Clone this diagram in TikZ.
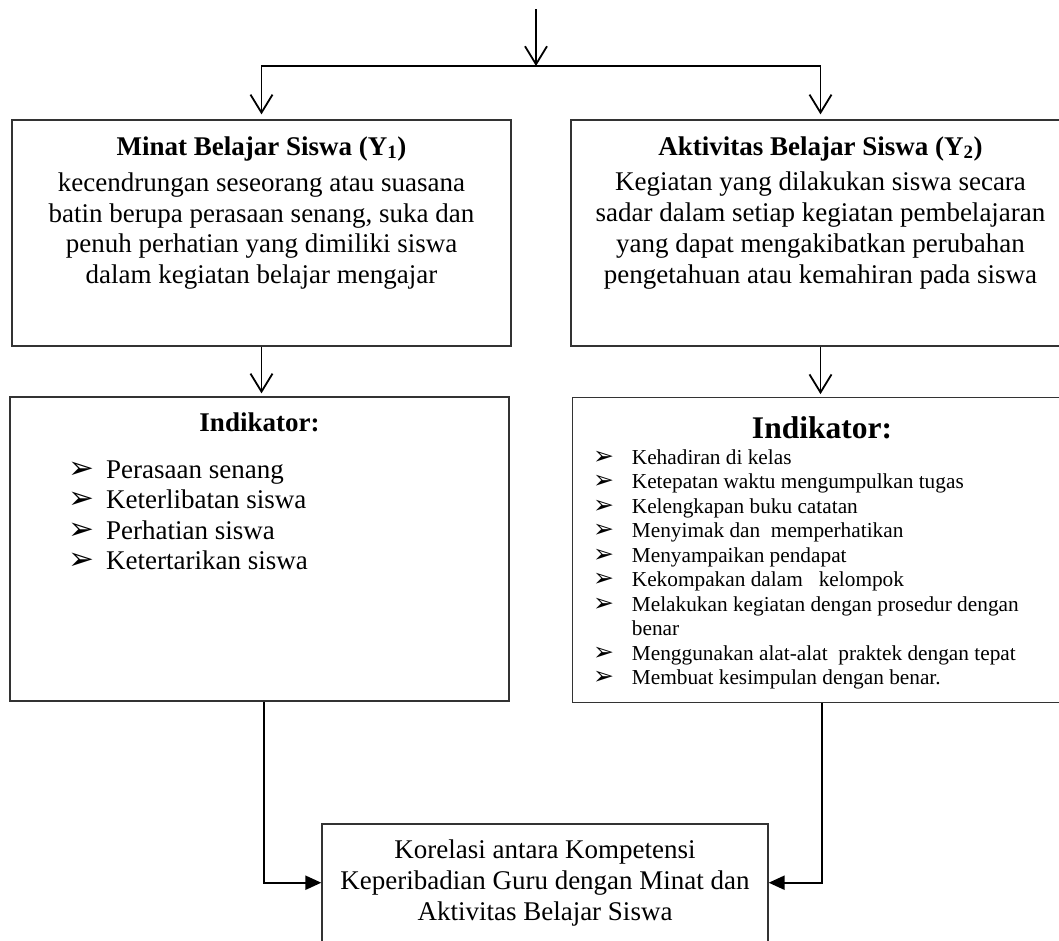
\documentclass[tikz,border=0pt]{standalone}
\usepackage{fontspec}
\setmainfont{Liberation Serif}
\newfontfamily\tandafont{DejaVu Sans}
\usepackage{tikz}
\usetikzlibrary{
    arrows.meta,
    positioning,
    calc
}
\tikzstyle{panah} = [
    -{Straight Barb[length=18pt,width=22pt]},
    line width=1.8pt
]
\tikzstyle{panahisi} = [
    -{Triangle[length=16pt,width=14pt]},
    line width=2.2pt
]
\tikzstyle{kotak} = [
    draw=black!80,
    line width=1.3pt,
    inner sep=0pt,
    minimum width=499pt
]
\tikzstyle{judul} = [
    font=\fontsize{27}{30.7}\selectfont\bfseries,
    anchor=base,
    inner sep=0pt
]
\tikzstyle{isi} = [
    font=\fontsize{27}{30.7}\selectfont,
    align=center,
    inner sep=0pt
]
\tikzstyle{butir} = [
    font=\fontsize{27}{30}\selectfont,
    anchor=base west,
    inner sep=0pt
]
\tikzstyle{butirkecil} = [
    font=\fontsize{21.3}{24}\selectfont,
    anchor=base west,
    inner sep=0pt
]

\begin{document}
\begin{tikzpicture}[x=1pt, y=-1pt]
        \useasboundingbox (0,0) rectangle (1059,940);

        % Kotak variabel
        \node[kotak, minimum height=226pt] (minat) at (261.5,233) {};
        \node[kotak, minimum height=226pt] (aktivitas) at (820.5,233) {};
        \node[kotak, minimum height=304pt] (indminat) at (259.5,549) {};
        \node[kotak, minimum height=305pt] (indaktivitas) at (822,550.3) {};
        \node[kotak, minimum width=446pt, minimum height=117.4pt, font=\fontsize{27}{31}\selectfont, align=center]
            (korelasi) at (545,882.7) {Korelasi antara Kompetensi\\Keperibadian Guru dengan Minat dan\\Aktivitas Belajar Siswa};

        % Isi kotak atas
        \node[judul] (judulminat) at (261.5,155) {Minat Belajar Siswa (Y\textsubscript{1})};
        \node[isi] (isiminat) at (261.5,231) {kecendrungan seseorang atau suasana\\batin berupa perasaan senang, suka dan\\penuh perhatian yang dimiliki siswa\\dalam kegiatan belajar mengajar};
        \node[judul] (judulaktivitas) at (820.5,155) {Aktivitas Belajar Siswa (Y\textsubscript{2})};
        \node[isi] (isiaktivitas) at (820.5,230.5) {Kegiatan yang dilakukan siswa secara\\sadar dalam setiap kegiatan pembelajaran\\yang dapat mengakibatkan perubahan\\pengetahuan atau kemahiran pada siswa};

        % Indikator minat
        \node[judul] (indjudulminat) at (259.5,431.5) {Indikator:};
        \foreach \teks [count=\i from 0] in {Perasaan senang, Keterlibatan siswa, Perhatian siswa, Ketertarikan siswa} {
            \node[butir, font=\tandafont\fontsize{31}{31}\selectfont] (tandam\i) at (68,{478+30.5*\i}) {➢};
            \node[butir] (butirm\i) at (106,{478+30.5*\i}) {\teks};
        }

        % Indikator aktivitas
        \node[judul, font=\fontsize{31.5}{36}\selectfont\bfseries] (indjudulaktivitas) at (822,438) {Indikator:};
        \foreach \teks/\baris in {Kehadiran di kelas/0, Ketepatan waktu mengumpulkan tugas/1, Kelengkapan buku catatan/2,
            Menyimak dan\ \ memperhatikan/3, Menyampaikan pendapat/4, Kekompakan dalam\ \ \ kelompok/5,
            Melakukan kegiatan dengan prosedur dengan/6, Menggunakan alat-alat\ \ praktek dengan tepat/8,
            Membuat kesimpulan dengan benar./9} {
            \node[butirkecil, font=\tandafont\fontsize{25}{25}\selectfont] (tandaa\baris) at (593,{464.3+24.48*\baris}) {➢};
            \node[butirkecil] (butira\baris) at (631.7,{464.3+24.48*\baris}) {\teks};
        }
        \node[butirkecil] (butira7) at (631.7,{464.3+24.48*7}) {benar};

        % Panah
        \coordinate (atas) at (536,9);
        \coordinate (cabang) at (536,66);
        \draw[panah] (atas) -- (cabang);
        \draw[panah, shorten >=5pt] (cabang) -| (minat);
        \draw[panah, shorten >=5pt] (cabang) -| (aktivitas);
        \draw[panah, shorten >=3pt] (minat.south) -- (minat.south |- indminat.north);
        \draw[panah, shorten >=3pt] (aktivitas.south) -- (aktivitas.south |- indaktivitas.north);
        \draw[panahisi] ([xshift=4.5pt]indminat.south) |- (korelasi);
        \draw[panahisi] (indaktivitas.south) |- (korelasi);
    \end{tikzpicture}
\end{document}
